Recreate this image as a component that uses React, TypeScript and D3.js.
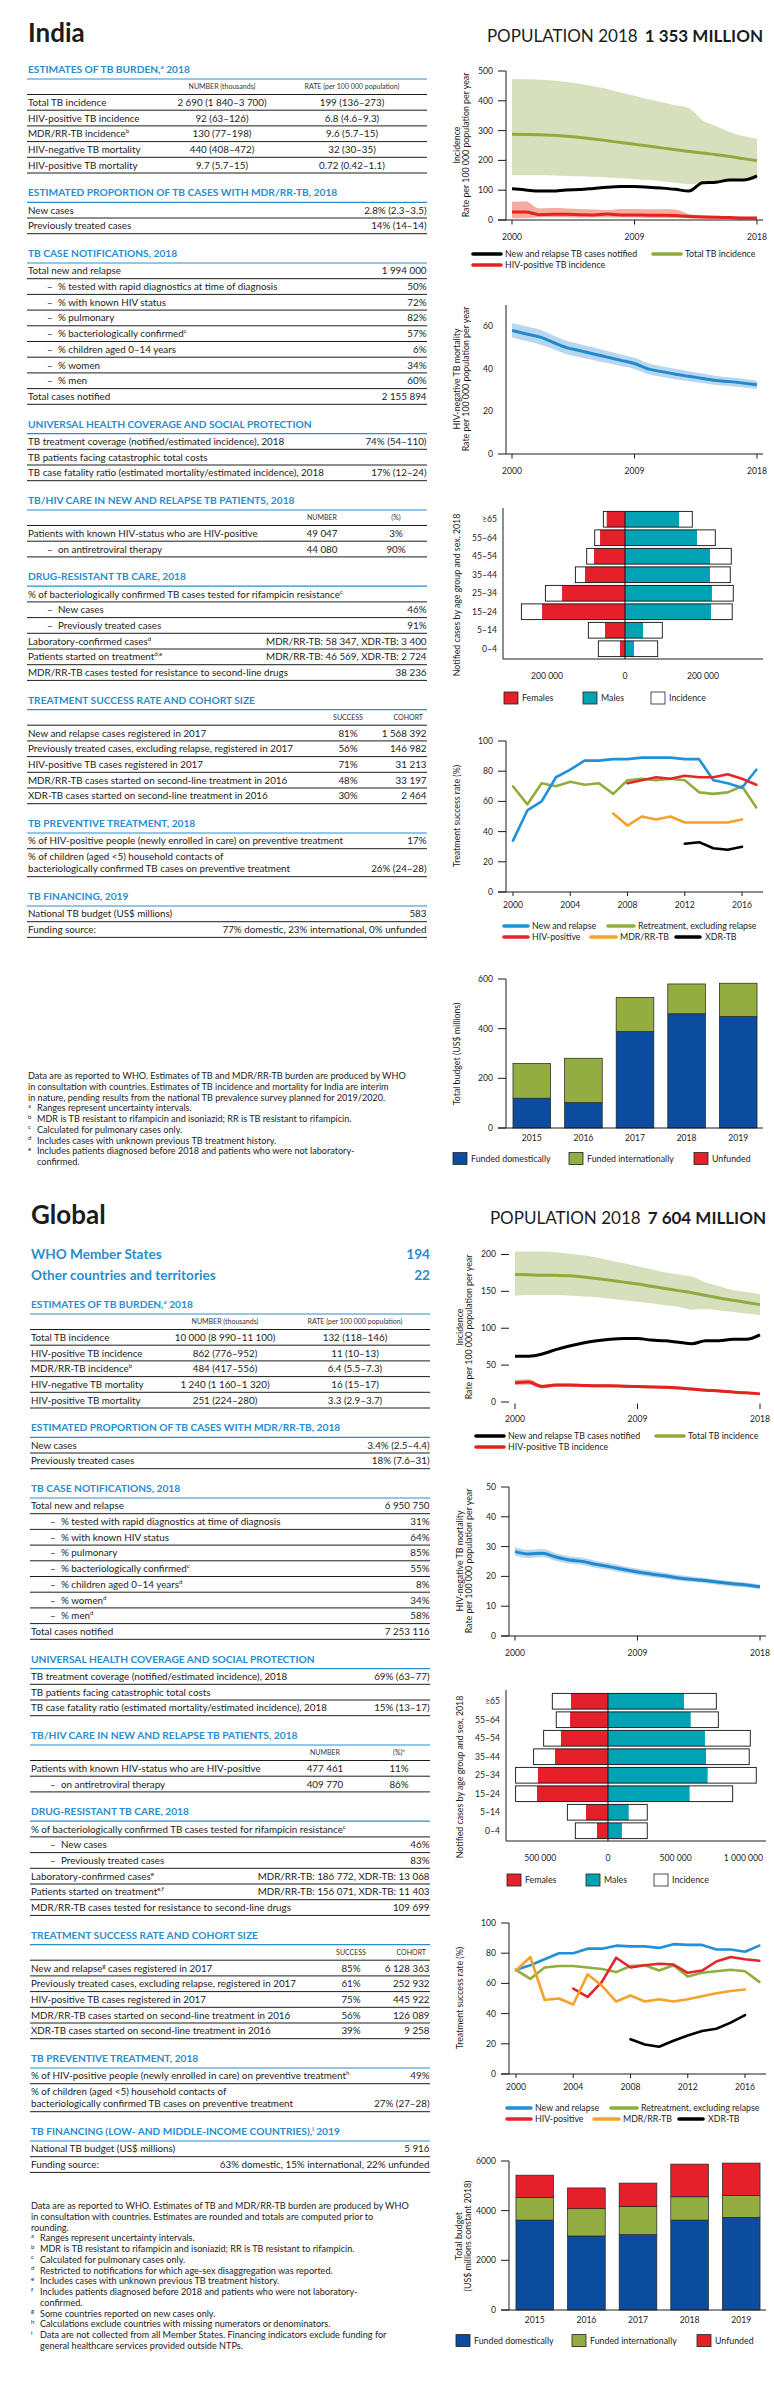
import React from 'react';
import * as d3 from 'd3';

const FONT = "Lato, 'Open Sans', 'DejaVu Sans', sans-serif";
const BLUE = '#2a8dcf';
const INK = '#1c1c1c';
const COL = {
  green: '#8fab3c', greenBand: '#d6e0bc',
  red: '#e3231c', redBand: '#f5ab9f',
  mort: '#1f8ad0', mortBand: '#b9d6ef',
  fem: '#e5202a', male: '#00a3b4',
  dom: '#0c4c9e', intl: '#93ad40', unf: '#e5202a',
  tNew: '#1f90da', tRet: '#8fae3c', tHiv: '#e3262b', tMdr: '#f6a12a', tXdr: '#000000',
};

// ================= INDIA: tables =================
const indiaPopulation = '1 353 MILLION';
const indiaBurdenRows = [
  ['Total TB incidence', '2 690 (1 840–3 700)', '199 (136–273)'],
  ['HIV-positive TB incidence', '92 (63–126)', '6.8 (4.6–9.3)'],
  ['MDR/RR-TB incidence^b', '130 (77–198)', '9.6 (5.7–15)'],
  ['HIV-negative TB mortality', '440 (408–472)', '32 (30–35)'],
  ['HIV-positive TB mortality', '9.7 (5.7–15)', '0.72 (0.42–1.1)'],
];
const indiaMdrRows = [
  ['New cases', '2.8% (2.3–3.5)'],
  ['Previously treated cases', '14% (14–14)'],
];
const indiaNotifRows = [
  ['Total new and relapse', '1 994 000'],
  ['– % tested with rapid diagnostics at time of diagnosis', '50%'],
  ['– % with known HIV status', '72%'],
  ['– % pulmonary', '82%'],
  ['– % bacteriologically confirmed^c', '57%'],
  ['– % children aged 0–14 years', '6%'],
  ['– % women', '34%'],
  ['– % men', '60%'],
  ['Total cases notified', '2 155 894'],
];
const indiaUhcRows = [
  ['TB treatment coverage (notified/estimated incidence), 2018', '74% (54–110)'],
  ['TB patients facing catastrophic total costs', ''],
  ['TB case fatality ratio (estimated mortality/estimated incidence), 2018', '17% (12–24)'],
];
const indiaHivHeader = '(%)';
const indiaHivRows = [
  ['Patients with known HIV-status who are HIV-positive', '49 047', '3%'],
  ['– on antiretroviral therapy', '44 080', '90%'],
];
const indiaDrRows = [
  ['% of bacteriologically confirmed TB cases tested for rifampicin resistance^c', ''],
  ['– New cases', '46%'],
  ['– Previously treated cases', '91%'],
  ['Laboratory-confirmed cases^d', 'MDR/RR-TB: 58 347, XDR-TB: 3 400'],
  ['Patients started on treatment^d,e', 'MDR/RR-TB: 46 569, XDR-TB: 2 724'],
  ['MDR/RR-TB cases tested for resistance to second-line drugs', '38 236'],
];
const indiaTsrRows = [
  ['New and relapse cases registered in 2017', '81%', '1 568 392'],
  ['Previously treated cases, excluding relapse, registered in 2017', '56%', '146 982'],
  ['HIV-positive TB cases registered in 2017', '71%', '31 213'],
  ['MDR/RR-TB cases started on second-line treatment in 2016', '48%', '33 197'],
  ['XDR-TB cases started on second-line treatment in 2016', '30%', '2 464'],
];
const indiaTptRows = [
  ['% of HIV-positive people (newly enrolled in care) on preventive treatment', '17%'],
  ['% of children (aged <5) household contacts of|bacteriologically confirmed TB cases on preventive treatment', '26% (24–28)'],
];
const indiaFinTitle = 'TB FINANCING, 2019';
const indiaFinRows = [
  ['National TB budget (US$ millions)', '583'],
  ['Funding source:', '77% domestic, 23% international, 0% unfunded'],
];
const indiaNotes = [
  ['', 'Data are as reported to WHO. Estimates of TB and MDR/RR-TB burden are produced by WHO'],
  ['', 'in consultation with countries. Estimates of TB incidence and mortality for India are interim'],
  ['', 'in nature, pending results from the national TB prevalence survey planned for 2019/2020.'],
  ['a', 'Ranges represent uncertainty intervals.'],
  ['b', 'MDR is TB resistant to rifampicin and isoniazid; RR is TB resistant to rifampicin.'],
  ['c', 'Calculated for pulmonary cases only.'],
  ['d', 'Includes cases with unknown previous TB treatment history.'],
  ['e', 'Includes patients diagnosed before 2018 and patients who were not laboratory-'],
  ['+', 'confirmed.'],
];

// ================= GLOBAL: tables =================
const globalPopulation = '7 604 MILLION';
const globalCounts = [
  ['WHO Member States', '194'],
  ['Other countries and territories', '22'],
];
const globalBurdenRows = [
  ['Total TB incidence', '10 000 (8 990–11 100)', '132 (118–146)'],
  ['HIV-positive TB incidence', '862 (776–952)', '11 (10–13)'],
  ['MDR/RR-TB incidence^b', '484 (417–556)', '6.4 (5.5–7.3)'],
  ['HIV-negative TB mortality', '1 240 (1 160–1 320)', '16 (15–17)'],
  ['HIV-positive TB mortality', '251 (224–280)', '3.3 (2.9–3.7)'],
];
const globalMdrRows = [
  ['New cases', '3.4% (2.5–4.4)'],
  ['Previously treated cases', '18% (7.6–31)'],
];
const globalNotifRows = [
  ['Total new and relapse', '6 950 750'],
  ['– % tested with rapid diagnostics at time of diagnosis', '31%'],
  ['– % with known HIV status', '64%'],
  ['– % pulmonary', '85%'],
  ['– % bacteriologically confirmed^c', '55%'],
  ['– % children aged 0–14 years^d', '8%'],
  ['– % women^d', '34%'],
  ['– % men^d', '58%'],
  ['Total cases notified', '7 253 116'],
];
const globalUhcRows = [
  ['TB treatment coverage (notified/estimated incidence), 2018', '69% (63–77)'],
  ['TB patients facing catastrophic total costs', ''],
  ['TB case fatality ratio (estimated mortality/estimated incidence), 2018', '15% (13–17)'],
];
const globalHivHeader = '(%)^h';
const globalHivRows = [
  ['Patients with known HIV-status who are HIV-positive', '477 461', '11%'],
  ['– on antiretroviral therapy', '409 770', '86%'],
];
const globalDrRows = [
  ['% of bacteriologically confirmed TB cases tested for rifampicin resistance^c', ''],
  ['– New cases', '46%'],
  ['– Previously treated cases', '83%'],
  ['Laboratory-confirmed cases^e', 'MDR/RR-TB: 186 772, XDR-TB: 13 068'],
  ['Patients started on treatment^e,f', 'MDR/RR-TB: 156 071, XDR-TB: 11 403'],
  ['MDR/RR-TB cases tested for resistance to second-line drugs', '109 699'],
];
const globalTsrRows = [
  ['New and relapse^g cases registered in 2017', '85%', '6 128 363'],
  ['Previously treated cases, excluding relapse, registered in 2017', '61%', '252 932'],
  ['HIV-positive TB cases registered in 2017', '75%', '445 922'],
  ['MDR/RR-TB cases started on second-line treatment in 2016', '56%', '126 089'],
  ['XDR-TB cases started on second-line treatment in 2016', '39%', '9 258'],
];
const globalTptRows = [
  ['% of HIV-positive people (newly enrolled in care) on preventive treatment^h', '49%'],
  ['% of children (aged <5) household contacts of|bacteriologically confirmed TB cases on preventive treatment', '27% (27–28)'],
];
const globalFinTitle = 'TB FINANCING (LOW- AND MIDDLE-INCOME COUNTRIES),^i 2019';
const globalFinRows = [
  ['National TB budget (US$ millions)', '5 916'],
  ['Funding source:', '63% domestic, 15% international, 22% unfunded'],
];
const globalNotes = [
  ['', 'Data are as reported to WHO. Estimates of TB and MDR/RR-TB burden are produced by WHO'],
  ['', 'in consultation with countries. Estimates are rounded and totals are computed prior to'],
  ['', 'rounding.'],
  ['a', 'Ranges represent uncertainty intervals.'],
  ['b', 'MDR is TB resistant to rifampicin and isoniazid; RR is TB resistant to rifampicin.'],
  ['c', 'Calculated for pulmonary cases only.'],
  ['d', 'Restricted to notifications for which age-sex disaggregation was reported.'],
  ['e', 'Includes cases with unknown previous TB treatment history.'],
  ['f', 'Includes patients diagnosed before 2018 and patients who were not laboratory-'],
  ['+', 'confirmed.'],
  ['g', 'Some countries reported on new cases only.'],
  ['h', 'Calculations exclude countries with missing numerators or denominators.'],
  ['i', 'Data are not collected from all Member States. Financing indicators exclude funding for'],
  ['+', 'general healthcare services provided outside NTPs.'],
];

// ================= CHART DATA =================
const incYears = [2000, 2001, 2002, 2003, 2004, 2005, 2006, 2007, 2008, 2009, 2010, 2011, 2012, 2013, 2014, 2015, 2016, 2017, 2018];
const yearTicks = [2000, 2009, 2018];

const indiaIncTotal = [288, 287, 286, 284, 281, 277, 272, 266, 260, 254, 248, 242, 236, 230, 225, 219, 213, 206, 199];
const indiaIncHi = [473, 472, 471, 468, 463, 457, 449, 440, 428, 417, 405, 395, 385, 375, 335, 315, 295, 282, 273];
const indiaIncLo = [150, 150, 150, 149, 148, 147, 145, 143, 140, 137, 134, 130, 125, 120, 124, 127, 130, 133, 136];
const indiaNotified = [105, 101, 97, 97, 101, 102, 106, 110, 112, 112, 110, 107, 103, 97, 125, 127, 134, 134, 148];
const indiaHivInc = [27, 27, 18, 19, 19, 18, 17, 20, 17, 17, 16, 16, 15, 12, 10, 9, 8, 7, 7];
const indiaHivIncHi = [61, 62, 39, 40, 39, 37, 35, 33, 37, 37, 36, 36, 35, 20, 16, 14, 12, 11, 10];
const indiaHivIncLo = [6, 6, 9, 9, 9, 8, 8, 9, 8, 8, 7, 7, 7, 6, 5, 5, 4, 3, 3];

const indiaMort = [58, 56.5, 55, 52.5, 50, 48.5, 47, 45.5, 44, 42.5, 40, 38.7, 37.5, 36.5, 35.5, 34.5, 34, 33.3, 32.5];
const indiaMortHi = [61.5, 60, 58.5, 55.8, 53.2, 51.6, 50, 48.4, 46.8, 45.2, 42.6, 41.2, 40, 38.9, 37.8, 36.7, 36.1, 35.3, 34.4];
const indiaMortLo = [54.7, 53.1, 51.6, 49.3, 46.9, 45.5, 44.1, 42.7, 41.3, 39.9, 37.5, 36.3, 35.1, 34.2, 33.3, 32.4, 32, 31.2, 30.5];

const globalIncTotal = [173, 172.5, 172, 172, 171, 169.5, 167.5, 165, 162.5, 160, 157, 154, 151, 148, 144.5, 141, 138, 135, 132];
const globalIncHi = [204, 204, 204, 203, 201, 199, 196, 192, 188, 184, 180, 176, 173, 170, 162, 157, 152, 149, 146];
const globalIncLo = [144, 145, 145, 145, 144, 143, 142, 140, 138, 136, 134, 131, 129, 125, 126, 124, 122, 120, 118];
const globalNotified = [62, 62, 65, 71, 76, 80, 83, 85, 86, 86, 84, 83, 81, 79, 83, 83, 85, 85, 91];
const globalHivInc = [26, 27, 21, 23, 23, 22.5, 22, 22, 21.5, 21, 20.5, 20, 19, 17.5, 16, 15, 13.5, 12.5, 11];
const globalHivIncHi = [30, 31, 23.5, 25, 25, 24.5, 24, 24, 23.5, 23, 22.5, 22, 21, 19.5, 18, 16.8, 15.2, 14, 12.6];
const globalHivIncLo = [23, 23.5, 18.5, 20.5, 20.5, 20, 19.8, 19.8, 19.4, 19, 18.5, 18, 17, 15.7, 14.3, 13.3, 12, 11, 9.6];

const globalMort = [28.3, 27.5, 27.8, 26.5, 25.5, 25, 24, 23.2, 22.3, 21.5, 20.8, 20.2, 19.5, 19, 18.6, 18, 17.5, 17.1, 16.5];
const globalMortHi = [29.8, 28.9, 29.2, 27.8, 26.8, 26.3, 25.2, 24.4, 23.4, 22.6, 21.9, 21.2, 20.5, 20, 19.5, 18.9, 18.4, 17.9, 17.3];
const globalMortLo = [27, 26.2, 26.5, 25.2, 24.3, 23.8, 22.8, 22.1, 21.2, 20.5, 19.8, 19.2, 18.6, 18.1, 17.7, 17.1, 16.6, 16.3, 15.7];

const ageGroups = ['0–4', '5–14', '15–24', '25–34', '35–44', '45–54', '55–64', '≥65'];
const indiaFemales = [12800, 51300, 212800, 161500, 102600, 79500, 64000, 47000];
const indiaMales = [23000, 46200, 220500, 223000, 218000, 218000, 184600, 138500];
const indiaIncFemales = [68400, 94000, 265800, 204300, 127300, 98300, 77700, 55600];
const indiaIncMales = [83800, 95700, 275000, 277700, 270000, 272600, 231600, 172600];
const globalFemales = [81000, 162000, 524000, 517000, 391000, 347000, 280000, 273000];
const globalMales = [103000, 153000, 603000, 736000, 724000, 716000, 611000, 561000];
const globalIncFemales = [241000, 300000, 682000, 682000, 549000, 475000, 382000, 411000];
const globalIncMales = [290000, 290000, 921000, 1095000, 1043000, 1051000, 815000, 800000];

const tsrTicks = [2000, 2004, 2008, 2012, 2016];
const indiaTsrNew = [34, 54, 60, 76, 81, 87, 87, 88, 88, 89, 89, 89, 88, 88, 74, 72, 69, 81];
const indiaTsrRet = [70, 58, 72, 70, 73, 71, 72, 65, 74, 75, 74, 75, 74, 66, 65, 66, 70, 56];
const indiaTsrHiv = [72, 74, 76, 75, 77, 76, 76, 78, 75, 71];
const indiaTsrMdr = [52, 44, 50, 48, 50, 46, 46, 46, 46, 48];
const indiaTsrXdr = [32, 33, 29, 28, 30];
const globalTsrNew = [69, 72, 76, 80, 80, 83, 83, 85, 84.5, 84.5, 83.5, 86, 85.5, 85.5, 82.5, 82.5, 81, 85];
const globalTsrRet = [69, 63, 70.5, 71.5, 71.5, 70.5, 69.5, 67.5, 71.5, 72, 68.5, 72, 64.5, 67, 68, 69, 68, 61];
const globalTsrHiv = [56.5, 51, 61, 77, 70.5, 72, 73, 72.5, 67, 68.5, 74.5, 77.5, 76, 75];
const globalTsrMdr = [68.5, 77.5, 49, 50, 46, 66, 58.5, 48, 52, 48, 49.5, 48, 49.5, 51.5, 53.5, 55, 56];
const globalTsrXdr = [23, 19.5, 18, 22, 25.5, 28.5, 30, 34, 39];

const budgetYears = ['2015', '2016', '2017', '2018', '2019'];
const indiaDomestic = [120, 102, 388, 460, 449];
const indiaInternational = [140, 179, 138, 120, 134];
const indiaUnfunded = [0, 0, 0, 0, 0];
const globalDomestic = [3620, 2980, 3035, 3620, 3727];
const globalInternational = [905, 1100, 1135, 940, 887];
const globalUnfunded = [905, 835, 940, 1315, 1302];

// ================= helpers =================
const spaceFmt = d3.formatLocale({ decimal: '.', thousands: ' ', grouping: [3], currency: ['', ''] }).format(',');

function Rich({ x, y, text, size, weight = 400, fill = INK, anchor = 'start' }: any) {
  const parts = String(text).split(/(\^\S+)/).filter((p) => p.length > 0);
  const shift = size * 0.4;
  let up = false;
  return (
    <text x={x} y={y + size * 0.35} fontSize={size} fontWeight={weight} fill={fill} textAnchor={anchor} fontFamily={FONT}>
      {parts.map((p, i) => {
        if (p[0] === '^') {
          up = true;
          return <tspan key={i} dy={-shift} fontSize={size * 0.62}>{p.slice(1)}</tspan>;
        }
        const dy = up ? shift : undefined;
        up = false;
        return <tspan key={i} dy={dy}>{p}</tspan>;
      })}
    </text>
  );
}

const C_NUM = 195, C_RATE = 325, C_HIVN = 295, C_HIVP = 369, C_SUCC = 321, C_RIGHT = 399.5;
const ROW_H = 15.7, HDR_H = 15.5, TWO_H = 28, GAP = 29.3;
const ROW_FS = 9.8;

function buildSections(o: any) {
  const right = (r: string[]) => ({ label: r[0], cells: [{ t: r[1], x: C_RIGHT, a: 'end' }] });
  return [
    {
      title: 'ESTIMATES OF TB BURDEN,^a 2018',
      headers: [{ t: 'NUMBER (thousands)', x: C_NUM, a: 'middle' }, { t: 'RATE (per 100 000 population)', x: C_RATE, a: 'middle' }],
      rows: o.burden.map((r: string[]) => ({ label: r[0], cells: [{ t: r[1], x: C_NUM, a: 'middle' }, { t: r[2], x: C_RATE, a: 'middle' }] })),
    },
    { title: 'ESTIMATED PROPORTION OF TB CASES WITH MDR/RR-TB, 2018', rows: o.mdr.map(right) },
    { title: 'TB CASE NOTIFICATIONS, 2018', rows: o.notif.map(right) },
    { title: 'UNIVERSAL HEALTH COVERAGE AND SOCIAL PROTECTION', rows: o.uhc.map(right) },
    {
      title: 'TB/HIV CARE IN NEW AND RELAPSE TB PATIENTS, 2018',
      headers: [{ t: 'NUMBER', x: C_HIVN, a: 'middle' }, { t: o.hivHeader, x: C_HIVP, a: 'middle' }],
      rows: o.hiv.map((r: string[]) => ({ label: r[0], cells: [{ t: r[1], x: C_HIVN, a: 'middle' }, { t: r[2], x: C_HIVP, a: 'middle' }] })),
    },
    { title: 'DRUG-RESISTANT TB CARE, 2018', rows: o.dr.map(right) },
    {
      title: 'TREATMENT SUCCESS RATE AND COHORT SIZE',
      headers: [{ t: 'SUCCESS', x: C_SUCC, a: 'middle' }, { t: 'COHORT', x: C_RIGHT - 3.5, a: 'end' }],
      rows: o.tsr.map((r: string[]) => ({ label: r[0], cells: [{ t: r[1], x: C_SUCC, a: 'middle' }, { t: r[2], x: C_RIGHT, a: 'end' }] })),
    },
    { title: 'TB PREVENTIVE TREATMENT, 2018', rows: o.tpt.map(right) },
    { title: o.finTitle, rows: o.fin.map(right) },
  ];
}

function Tables({ secs, x0, x1, y0 }: any) {
  const els: any[] = [];
  let y = y0;
  secs.forEach((s: any, si: number) => {
    els.push(<Rich key={`t${si}`} x={x0 + 1} y={y - 9.5} text={s.title} size={10.2} weight={700} fill={BLUE} />);
    els.push(<line key={`tl${si}`} x1={x0} x2={x1} y1={y} y2={y} stroke={BLUE} strokeWidth={1.2} />);
    let cy = y;
    if (s.headers) {
      s.headers.forEach((h: any, hi: number) =>
        els.push(<Rich key={`h${si}-${hi}`} x={x0 + h.x} y={cy + 7.6} text={h.t} size={7} anchor={h.a} fill="#333" />));
      cy += HDR_H;
      els.push(<line key={`hl${si}`} x1={x0} x2={x1} y1={cy} y2={cy} stroke={INK} strokeWidth={1} />);
    }
    s.rows.forEach((r: any, ri: number) => {
      const [l1, l2] = r.label.split('|');
      const indent = l1.startsWith('– ');
      const lab = indent ? l1.slice(2) : l1;
      const ty = cy + 7.9;
      const vy = l2 ? ty + 12 : ty;
      if (indent) els.push(<Rich key={`d${si}-${ri}`} x={x0 + 20} y={ty} text="–" size={ROW_FS} />);
      els.push(<Rich key={`l${si}-${ri}`} x={x0 + (indent ? 31 : 1)} y={ty} text={lab} size={ROW_FS} />);
      if (l2) els.push(<Rich key={`l2${si}-${ri}`} x={x0 + 1} y={ty + 12} text={l2} size={ROW_FS} />);
      r.cells.forEach((c: any, ci: number) => {
        if (c.t) els.push(<Rich key={`c${si}-${ri}-${ci}`} x={x0 + c.x} y={vy} text={c.t} size={ROW_FS} anchor={c.a} />);
      });
      cy += l2 ? TWO_H : ROW_H;
      els.push(<line key={`rl${si}-${ri}`} x1={x0} x2={x1} y1={cy} y2={cy} stroke={INK} strokeWidth={1} />);
    });
    y = cy + GAP;
  });
  return <g>{els}</g>;
}

function Notes({ x0, y0, lines }: any) {
  return (
    <g>
      {lines.map((l: string[], i: number) => {
        const y = y0 + i * 10.75;
        if (l[0] === '') return <Rich key={i} x={x0 + 1} y={y} text={l[1]} size={9.1} />;
        return (
          <g key={i}>
            {l[0] !== '+' && <Rich x={x0 + 1} y={y - 2.5} text={l[0]} size={6} />}
            <Rich x={x0 + 10} y={y} text={l[1]} size={9.1} />
          </g>
        );
      })}
    </g>
  );
}

function Population({ ox, oy, value }: any) {
  return (
    <text x={763 + ox} y={41.7 + oy} textAnchor="end" fontSize={17} fill={INK} fontFamily={FONT}>
      <tspan>POPULATION 2018</tspan>
      <tspan dx={7} fontWeight={700}>{value}</tspan>
    </text>
  );
}

function YTitle({ xs, cy, lines }: any) {
  return (
    <g>
      {lines.map((t: string, i: number) => (
        <text key={i} transform={`translate(${xs[i]},${cy}) rotate(-90)`} textAnchor="middle" dy="0.35em" fontSize={8.8} fill={INK} fontFamily={FONT}>{t}</text>
      ))}
    </g>
  );
}

function LineLegend({ items }: any) {
  return (
    <g>
      {items.map((it: any, i: number) => (
        <g key={i}>
          <line x1={it.x1} x2={it.x2} y1={it.y} y2={it.y} stroke={it.color} strokeWidth={3.6} strokeLinecap="round" />
          <text x={it.tx} y={it.y} dy="0.35em" fontSize={8.8} fill={INK} fontFamily={FONT}>{it.label}</text>
        </g>
      ))}
    </g>
  );
}

function BoxLegend({ items, y }: any) {
  return (
    <g>
      {items.map((it: any, i: number) => (
        <g key={i}>
          <rect x={it.x} y={y - 6} width={14} height={12} fill={it.color} stroke="#222" strokeWidth={0.8} />
          <text x={it.tx} y={y} dy="0.35em" fontSize={8.8} fill={INK} fontFamily={FONT}>{it.label}</text>
        </g>
      ))}
    </g>
  );
}

const TICK_FS = 8.6;

function IncidenceChart({ ox, oy, yMax, ticks, axisLines, total, hi, lo, notified, hiv, hivHi, hivLo }: any) {
  const x = d3.scaleLinear().domain([2000, 2018]).range([512 + ox, 757 + ox]);
  const y = d3.scaleLinear().domain([0, yMax]).range([220 + oy, 71 + oy]);
  const band = (h: number[], l: number[]) =>
    d3.area<number>().x((d) => x(d)).y0((_, i) => y(l[i])).y1((_, i) => y(h[i])).curve(d3.curveMonotoneX)(incYears) || '';
  const line = (v: number[]) => d3.line<number>().x((d) => x(d)).y((_, i) => y(v[i])).curve(d3.curveMonotoneX)(incYears) || '';
  const ax = 506 + ox;
  const bottom = y(0);
  return (
    <g>
      <path d={band(hi, lo)} fill={COL.greenBand} />
      <path d={band(hivHi, hivLo)} fill={COL.redBand} />
      <path d={line(total)} fill="none" stroke={COL.green} strokeWidth={3} />
      <path d={line(notified)} fill="none" stroke="#000" strokeWidth={3} />
      <path d={line(hiv)} fill="none" stroke={COL.red} strokeWidth={3} />
      {axisLines && <line x1={ax} x2={ax} y1={71 + oy} y2={bottom} stroke={INK} />}
      {axisLines && <line x1={498 + ox} x2={763 + ox} y1={bottom} y2={bottom} stroke={INK} />}
      {ticks.map((t: number) => (
        <g key={t}>
          <line x1={ax - 8} x2={ax} y1={y(t)} y2={y(t)} stroke={INK} />
          <text x={ax - 13} y={y(t)} dy="0.35em" textAnchor="end" fontSize={TICK_FS} fill={INK} fontFamily={FONT}>{t}</text>
        </g>
      ))}
      {yearTicks.map((t) => (
        <g key={t}>
          <line x1={x(t)} x2={x(t)} y1={axisLines ? bottom : bottom + 1.5} y2={bottom + (axisLines ? 4.5 : 7)} stroke={INK} />
          <text x={x(t)} y={237 + oy} dy="0.35em" textAnchor="middle" fontSize={TICK_FS} fill={INK} fontFamily={FONT}>{t}</text>
        </g>
      ))}
      <YTitle xs={[457 + ox, 466 + ox]} cy={145 + oy} lines={['Incidence', 'Rate per 100 000 population per year']} />
      <LineLegend items={[
        { x1: 473 + ox, x2: 501 + ox, y: 254 + oy, color: '#000', tx: 505 + ox, label: 'New and relapse TB cases notified' },
        { x1: 653 + ox, x2: 681 + ox, y: 254 + oy, color: COL.green, tx: 685 + ox, label: 'Total TB incidence' },
        { x1: 473 + ox, x2: 501 + ox, y: 265 + oy, color: COL.red, tx: 505 + ox, label: 'HIV-positive TB incidence' },
      ]} />
    </g>
  );
}

function MortalityChart({ ox, oy, yMax, ticks, tickMarks, mort, hi, lo }: any) {
  const x = d3.scaleLinear().domain([2000, 2018]).range([512 + ox, 757 + ox]);
  const y = d3.scaleLinear().domain([0, yMax]).range([454 + oy, 305 + oy]);
  const band = d3.area<number>().x((d) => x(d)).y0((_, i) => y(lo[i])).y1((_, i) => y(hi[i])).curve(d3.curveMonotoneX)(incYears) || '';
  const line = d3.line<number>().x((d) => x(d)).y((_, i) => y(mort[i])).curve(d3.curveMonotoneX)(incYears) || '';
  const ax = 506 + ox;
  const bottom = y(0);
  return (
    <g>
      <path d={band} fill={COL.mortBand} />
      <path d={line} fill="none" stroke={COL.mort} strokeWidth={3} />
      <line x1={ax} x2={ax} y1={305 + oy} y2={bottom} stroke={INK} />
      <line x1={498 + ox} x2={763 + ox} y1={bottom} y2={bottom} stroke={INK} />
      {ticks.map((t: number) => (
        <g key={t}>
          {tickMarks && <line x1={ax - 8} x2={ax} y1={y(t)} y2={y(t)} stroke={INK} />}
          <text x={ax - 13} y={y(t)} dy="0.35em" textAnchor="end" fontSize={TICK_FS} fill={INK} fontFamily={FONT}>{t}</text>
        </g>
      ))}
      {yearTicks.map((t) => (
        <g key={t}>
          <line x1={x(t)} x2={x(t)} y1={bottom} y2={bottom + 4.5} stroke={INK} />
          <text x={x(t)} y={471 + oy} dy="0.35em" textAnchor="middle" fontSize={TICK_FS} fill={INK} fontFamily={FONT}>{t}</text>
        </g>
      ))}
      <YTitle xs={[457 + ox, 466 + ox]} cy={379 + oy} lines={['HIV-negative TB mortality', 'Rate per 100 000 population per year']} />
    </g>
  );
}

function Pyramid({ ox, oy, domain, ticks, fem, male, incF, incM }: any) {
  const x = d3.scaleLinear().domain(domain).range([503 + ox, 763 + ox]);
  const y = d3.scaleBand<string>().domain(ageGroups).range([658 + oy, 510 + oy]).paddingInner(0.15).paddingOuter(0.075);
  const bw = y.bandwidth();
  const bottom = 659 + oy;
  const top = (y('≥65') as number);
  return (
    <g>
      {ageGroups.map((g, i) => {
        const yy = y(g) as number;
        return (
          <g key={g}>
            <rect x={x(-incF[i])} y={yy} width={x(incM[i]) - x(-incF[i])} height={bw} fill="#fff" />
            <rect x={x(-fem[i])} y={yy} width={x(0) - x(-fem[i])} height={bw} fill={COL.fem} />
            <rect x={x(0)} y={yy} width={x(male[i]) - x(0)} height={bw} fill={COL.male} />
            <rect x={x(-incF[i])} y={yy} width={x(incM[i]) - x(-incF[i])} height={bw} fill="none" stroke="#111" strokeWidth={0.9} />
            <text x={497 + ox} y={yy + bw / 2} dy="0.35em" textAnchor="end" fontSize={TICK_FS} fill={INK} fontFamily={FONT}>{g}</text>
          </g>
        );
      })}
      <line x1={x(0)} x2={x(0)} y1={top} y2={bottom} stroke="#111" strokeWidth={1} />
      <line x1={503 + ox} x2={503 + ox} y1={508 + oy} y2={bottom} stroke={INK} />
      <line x1={503 + ox} x2={763 + ox} y1={bottom} y2={bottom} stroke={INK} />
      {ticks.map((t: number) => (
        <text key={t} x={x(t)} y={676 + oy} dy="0.35em" textAnchor="middle" fontSize={TICK_FS} fill={INK} fontFamily={FONT}>{spaceFmt(Math.abs(t))}</text>
      ))}
      <YTitle xs={[457 + ox]} cy={595 + oy} lines={['Notified cases by age group and sex, 2018']} />
      <BoxLegend y={698 + oy} items={[
        { x: 504 + ox, tx: 522 + ox, color: COL.fem, label: 'Females' },
        { x: 583 + ox, tx: 601 + ox, color: COL.male, label: 'Males' },
        { x: 651 + ox, tx: 669 + ox, color: '#fff', label: 'Incidence' },
      ]} />
    </g>
  );
}

function TreatmentChart({ ox, oy, series }: any) {
  const x = d3.scaleLinear().domain([2000, 2016]).range([513 + ox, 742 + ox]);
  const y = d3.scaleLinear().domain([0, 100]).range([892 + oy, 741 + oy]);
  const ax = 506 + ox;
  const bottom = y(0);
  const line = (s: any) => d3.line<number>().x((_, i) => x(s.start + i)).y((d) => y(d))(s.values) || '';
  return (
    <g>
      <line x1={ax} x2={ax} y1={741 + oy} y2={bottom} stroke={INK} />
      <line x1={498 + ox} x2={763 + ox} y1={bottom} y2={bottom} stroke={INK} />
      {[0, 20, 40, 60, 80, 100].map((t) => (
        <g key={t}>
          <line x1={ax - 8} x2={ax} y1={y(t)} y2={y(t)} stroke={INK} />
          <text x={ax - 13} y={y(t)} dy="0.35em" textAnchor="end" fontSize={TICK_FS} fill={INK} fontFamily={FONT}>{t}</text>
        </g>
      ))}
      {tsrTicks.map((t) => (
        <g key={t}>
          <line x1={x(t)} x2={x(t)} y1={bottom} y2={bottom + 4} stroke={INK} />
          <text x={x(t)} y={905 + oy} dy="0.35em" textAnchor="middle" fontSize={TICK_FS} fill={INK} fontFamily={FONT}>{t}</text>
        </g>
      ))}
      {series.map((s: any) => (
        <path key={s.name} d={line(s)} fill="none" stroke={s.color} strokeWidth={2.6} strokeLinejoin="round" strokeLinecap="round" />
      ))}
      <YTitle xs={[457 + ox]} cy={816 + oy} lines={['Treatment success rate (%)']} />
      <LineLegend items={[
        { x1: 504 + ox, x2: 528 + ox, y: 926 + oy, color: COL.tNew, tx: 532 + ox, label: 'New and relapse' },
        { x1: 608 + ox, x2: 634 + ox, y: 926 + oy, color: COL.tRet, tx: 638 + ox, label: 'Retreatment, excluding relapse' },
        { x1: 504 + ox, x2: 528 + ox, y: 937 + oy, color: COL.tHiv, tx: 532 + ox, label: 'HIV-positive' },
        { x1: 591 + ox, x2: 616 + ox, y: 937 + oy, color: COL.tMdr, tx: 620 + ox, label: 'MDR/RR-TB' },
        { x1: 676 + ox, x2: 700 + ox, y: 937 + oy, color: COL.tXdr, tx: 705 + ox, label: 'XDR-TB' },
      ]} />
    </g>
  );
}

function BudgetChart({ ox, oy, yMax, ticks, dom, intl, unf, title }: any) {
  const rows = budgetYears.map((yr, i) => ({ year: yr, domestic: dom[i], international: intl[i], unfunded: unf[i] }));
  const stack = d3.stack<any>().keys(['domestic', 'international', 'unfunded'])(rows);
  const colors: any = { domestic: COL.dom, international: COL.intl, unfunded: COL.unf };
  const xb = d3.scaleBand<string>().domain(budgetYears).range([506 + ox, 764 + ox]).paddingInner(0.27).paddingOuter(0.135);
  const y = d3.scaleLinear().domain([0, yMax]).range([1128 + oy, 979 + oy]);
  const ax = 506 + ox;
  const bottom = y(0);
  return (
    <g>
      {stack.map((s) => (
        <g key={s.key}>
          {s.map((d: any) => (d[1] - d[0] > 0 ? (
            <rect key={d.data.year} x={xb(d.data.year)} y={y(d[1])} width={xb.bandwidth()} height={y(d[0]) - y(d[1])}
              fill={colors[s.key]} stroke="#222" strokeWidth={0.7} />
          ) : null))}
        </g>
      ))}
      <line x1={ax} x2={ax} y1={979 + oy} y2={bottom} stroke={INK} />
      <line x1={498 + ox} x2={763 + ox} y1={bottom} y2={bottom} stroke={INK} />
      {ticks.map((t: number) => (
        <g key={t}>
          <line x1={ax - 8} x2={ax} y1={y(t)} y2={y(t)} stroke={INK} />
          <text x={ax - 13} y={y(t)} dy="0.35em" textAnchor="end" fontSize={TICK_FS} fill={INK} fontFamily={FONT}>{t}</text>
        </g>
      ))}
      {budgetYears.map((yr) => (
        <text key={yr} x={(xb(yr) as number) + xb.bandwidth() / 2} y={1138 + oy} dy="0.35em" textAnchor="middle" fontSize={TICK_FS} fill={INK} fontFamily={FONT}>{yr}</text>
      ))}
      <YTitle xs={title.length > 1 ? [456 + ox, 465 + ox] : [457 + ox]} cy={1054 + oy} lines={title} />
      <BoxLegend y={1158.6 + oy} items={[
        { x: 453 + ox, tx: 471 + ox, color: COL.dom, label: 'Funded domestically' },
        { x: 569 + ox, tx: 587 + ox, color: COL.intl, label: 'Funded internationally' },
        { x: 694 + ox, tx: 712 + ox, color: COL.unf, label: 'Unfunded' },
      ]} />
    </g>
  );
}

const indiaSecs = buildSections({
  burden: indiaBurdenRows, mdr: indiaMdrRows, notif: indiaNotifRows, uhc: indiaUhcRows, hivHeader: indiaHivHeader,
  hiv: indiaHivRows, dr: indiaDrRows, tsr: indiaTsrRows, tpt: indiaTptRows, finTitle: indiaFinTitle, fin: indiaFinRows,
});
const globalSecs = buildSections({
  burden: globalBurdenRows, mdr: globalMdrRows, notif: globalNotifRows, uhc: globalUhcRows, hivHeader: globalHivHeader,
  hiv: globalHivRows, dr: globalDrRows, tsr: globalTsrRows, tpt: globalTptRows, finTitle: globalFinTitle, fin: globalFinRows,
});

const indiaTsrSeries = [
  { name: 'ret', color: COL.tRet, start: 2000, values: indiaTsrRet },
  { name: 'new', color: COL.tNew, start: 2000, values: indiaTsrNew },
  { name: 'hiv', color: COL.tHiv, start: 2008, values: indiaTsrHiv },
  { name: 'mdr', color: COL.tMdr, start: 2007, values: indiaTsrMdr },
  { name: 'xdr', color: COL.tXdr, start: 2012, values: indiaTsrXdr },
];
const globalTsrSeries = [
  { name: 'ret', color: COL.tRet, start: 2000, values: globalTsrRet },
  { name: 'new', color: COL.tNew, start: 2000, values: globalTsrNew },
  { name: 'hiv', color: COL.tHiv, start: 2004, values: globalTsrHiv },
  { name: 'mdr', color: COL.tMdr, start: 2000, values: globalTsrMdr },
  { name: 'xdr', color: COL.tXdr, start: 2008, values: globalTsrXdr },
];

export default function App() {
  const GX = 3, GY = 1182;
  return (
    <div style={{ position: 'absolute', left: 0, top: 0, width: 774, height: 2385, background: '#fff' }}>
      <svg width={774} height={2385} viewBox="0 0 774 2385" style={{ display: 'block' }} fontFamily={FONT}>
        <rect width={774} height={2385} fill="#fff" />
        {/* ---------- INDIA ---------- */}
        <Rich x={28} y={33} text="India" size={26} weight={700} />
        <Tables secs={indiaSecs} x0={27} x1={427} y0={79} />
        <Notes x0={27} y0={1076} lines={indiaNotes} />
        <Population ox={0} oy={0} value={indiaPopulation} />
        <IncidenceChart ox={0} oy={0} yMax={500} ticks={[0, 100, 200, 300, 400, 500]} axisLines={true}
          total={indiaIncTotal} hi={indiaIncHi} lo={indiaIncLo} notified={indiaNotified}
          hiv={indiaHivInc} hivHi={indiaHivIncHi} hivLo={indiaHivIncLo} />
        <MortalityChart ox={0} oy={0} yMax={70} ticks={[0, 20, 40, 60]} tickMarks={false} mort={indiaMort} hi={indiaMortHi} lo={indiaMortLo} />
        <Pyramid ox={0} oy={0} domain={[-313000, 354000]} ticks={[-200000, 0, 200000]}
          fem={indiaFemales} male={indiaMales} incF={indiaIncFemales} incM={indiaIncMales} />
        <TreatmentChart ox={0} oy={0} series={indiaTsrSeries} />
        <BudgetChart ox={0} oy={0} yMax={600} ticks={[0, 200, 400, 600]} dom={indiaDomestic} intl={indiaInternational} unf={indiaUnfunded}
          title={['Total budget (US$ millions)']} />

        {/* ---------- GLOBAL ---------- */}
        <Rich x={31} y={1215} text="Global" size={26} weight={700} />
        {globalCounts.map((c, i) => (
          <g key={c[0]}>
            <Rich x={31} y={1254 + i * 21} text={c[0]} size={13.6} weight={700} fill={BLUE} />
            <Rich x={430} y={1254 + i * 21} text={c[1]} size={13.6} weight={700} fill={BLUE} anchor="end" />
          </g>
        ))}
        <Tables secs={globalSecs} x0={30} x1={430} y0={1314} />
        <Notes x0={30} y0={2206} lines={globalNotes} />
        <Population ox={GX} oy={GY} value={globalPopulation} />
        <IncidenceChart ox={GX} oy={GY} yMax={202} ticks={[0, 50, 100, 150, 200]} axisLines={false}
          total={globalIncTotal} hi={globalIncHi} lo={globalIncLo} notified={globalNotified}
          hiv={globalHivInc} hivHi={globalHivIncHi} hivLo={globalHivIncLo} />
        <MortalityChart ox={GX} oy={GY} yMax={50} ticks={[0, 10, 20, 30, 40, 50]} tickMarks={true} mort={globalMort} hi={globalMortHi} lo={globalMortLo} />
        <Pyramid ox={GX} oy={GY} domain={[-753000, 1167000]} ticks={[-500000, 0, 500000, 1000000]}
          fem={globalFemales} male={globalMales} incF={globalIncFemales} incM={globalIncMales} />
        <TreatmentChart ox={GX} oy={GY} series={globalTsrSeries} />
        <BudgetChart ox={GX} oy={GY} yMax={6000} ticks={[0, 2000, 4000, 6000]} dom={globalDomestic} intl={globalInternational} unf={globalUnfunded}
          title={['Total budget', '(US$ millions constant 2018)']} />
      </svg>
    </div>
  );
}
